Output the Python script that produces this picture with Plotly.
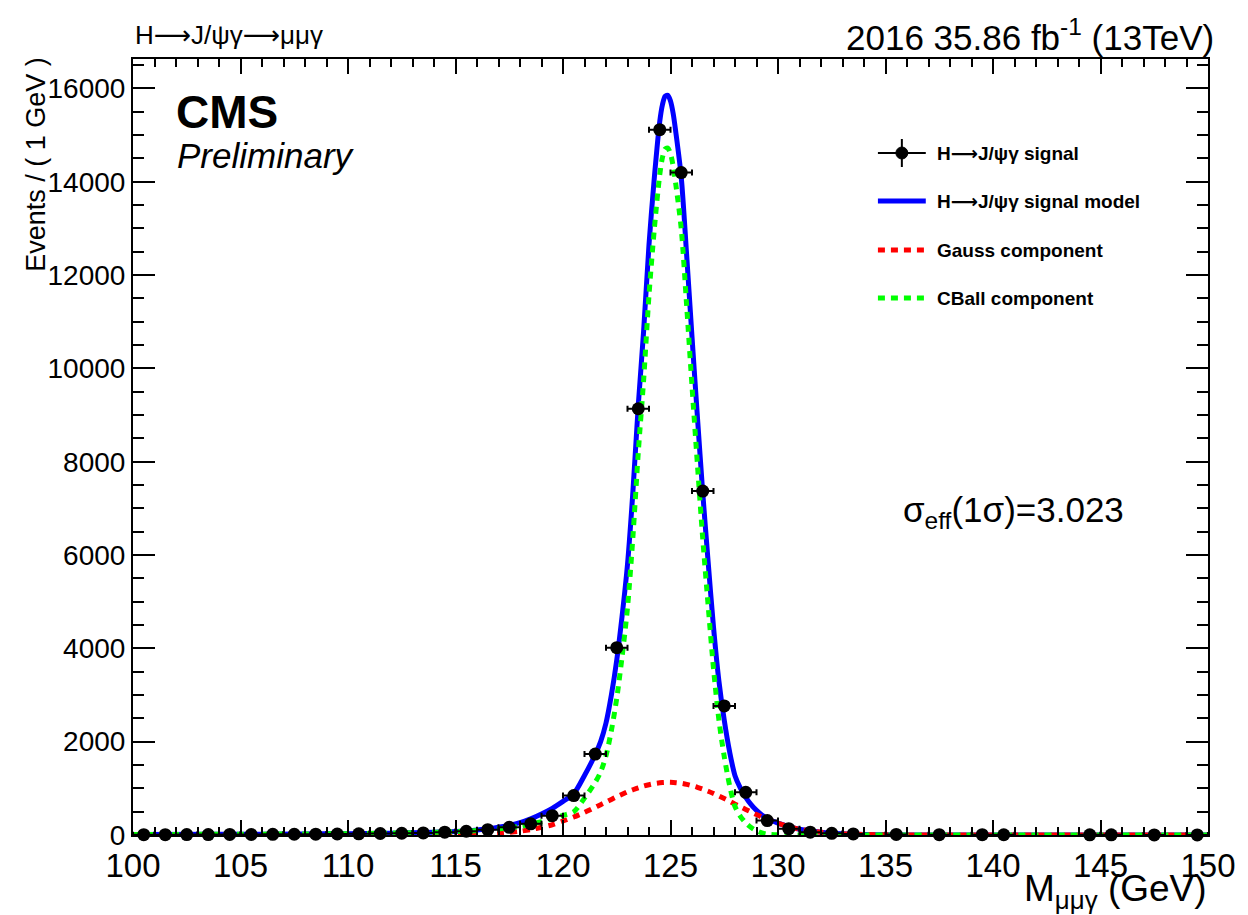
import plotly.graph_objects as go

# ---------------- data ----------------
bin_centers = [100.5, 101.5, 102.5, 103.5, 104.5, 105.5, 106.5, 107.5, 108.5, 109.5,
               110.5, 111.5, 112.5, 113.5, 114.5, 115.5, 116.5, 117.5, 118.5, 119.5,
               120.5, 121.5, 122.5, 123.5, 124.5, 125.5, 126.5, 127.5, 128.5, 129.5,
               130.5, 131.5, 132.5, 133.5, 135.5, 137.5, 139.5, 140.5, 144.5, 145.5,
               147.5, 149.5]
counts = [8, 7, 10, 9, 12, 11, 14, 16, 18, 21,
          25, 32, 38, 45, 60, 80, 115, 165, 240, 415,
          845, 1735, 4015, 9135, 15115, 14195, 7370, 2767, 915, 310,
          135, 60, 35, 22, 12, 8, 6, 5, 3, 3,
          2, 2]
bin_halfwidth = [0.5] * len(bin_centers)

curve_x = [100, 104, 108, 110, 112, 113, 114, 115, 116, 117,
           118, 118.5, 119, 119.5, 120, 120.5, 121, 121.5, 121.75, 122,
           122.25, 122.5, 122.75, 123, 123.25, 123.5, 123.75, 124, 124.25, 124.5,
           124.625, 124.75, 124.875, 125, 125.125, 125.25, 125.5, 125.75, 126, 126.25,
           126.5, 126.75, 127, 127.25, 127.5, 127.75, 128, 128.25, 128.5, 128.75,
           129, 129.25, 129.5, 130, 130.5, 131, 132, 133, 134, 135,
           137, 140, 145, 150]
model_y = [12, 15, 22, 28, 40, 49, 60, 77, 109, 165,
           265, 346, 450, 570, 720, 885, 1275, 1725, 2000, 2400,
           3000, 3750, 4700, 5800, 7350, 9200, 10800, 12650, 14100, 15290,
           15650, 15830, 15850, 15730, 15460, 15050, 14098, 12436, 10677, 8972,
           7332, 5857, 4458, 3305, 2460, 1782, 1272, 1005, 808, 652,
           528, 430, 356, 253, 180, 125, 60, 25, 10, 4,
           0, 0, 0, 0]
gauss_y = [0, 0, 0, 0, 0, 1, 2, 5, 14, 35,
           80, 116, 165, 220, 300, 385, 485, 595, 650, 705,
           762, 820, 873, 925, 970, 1012, 1048, 1078, 1102, 1118,
           1124, 1127, 1129, 1128, 1126, 1122, 1108, 1086, 1057, 1022,
           982, 937, 888, 835, 780, 722, 662, 605, 548, 492,
           438, 385, 338, 250, 180, 125, 60, 25, 10, 4,
           0, 0, 0, 0]
cball_y = [12, 15, 22, 28, 40, 48, 58, 72, 95, 130,
           185, 230, 285, 350, 420, 500, 790, 1130, 1350, 1700,
           2240, 2930, 3830, 4870, 6380, 8190, 9750, 11570, 13000, 14150,
           14520, 14700, 14720, 14600, 14330, 13930, 12990, 11350, 9620, 7950,
           6350, 4920, 3570, 2470, 1680, 1060, 610, 400, 260, 160,
           90, 45, 18, 3, 0, 0, 0, 0, 0, 0,
           0, 0, 0, 0]

legend_labels = ["H{a}J/\u03c8\u03b3 signal", "H{a}J/\u03c8\u03b3 signal model",
                 "Gauss component", "CBall component"]

# ---------------- geometry ----------------
W, H = 1248, 915
L, R, T, B = 133, 37, 59, 80
FONT = "Liberation Sans"
ARROW = "<span style='font-family:DejaVu Sans'>\u27f6</span>"


def fx(px):
    return (px - L) / (W - L - R)


def fy(py):
    return (H - B - py) / (H - T - B)


DASH = "7px,6px"

fig = go.Figure()
fig.add_trace(go.Scatter(x=curve_x, y=model_y, mode="lines",
                         line=dict(color="#0000ff", width=5, shape="spline", smoothing=0.8),
                         hoverinfo="skip", showlegend=False))
fig.add_trace(go.Scatter(x=curve_x, y=gauss_y, mode="lines",
                         line=dict(color="#ff0000", width=5, dash=DASH, shape="spline", smoothing=0.8),
                         hoverinfo="skip", showlegend=False))
fig.add_trace(go.Scatter(x=curve_x, y=cball_y, mode="lines",
                         line=dict(color="#00ff00", width=5, dash=DASH, shape="spline", smoothing=0.8),
                         hoverinfo="skip", showlegend=False))
fig.add_trace(go.Scatter(x=bin_centers, y=counts, mode="markers",
                         marker=dict(color="black", size=13),
                         error_x=dict(type="data", array=bin_halfwidth, color="black",
                                      thickness=2, width=3),
                         cliponaxis=False, showlegend=False))

axis_common = dict(showline=True, linewidth=2, linecolor="black", mirror="ticks",
                   showgrid=False, zeroline=False, ticks="inside", tickwidth=2,
                   tickcolor="black")

fig.update_layout(
    width=W, height=H,
    margin=dict(l=L, r=R, t=T, b=B, pad=0),
    paper_bgcolor="white", plot_bgcolor="white",
    font=dict(family=FONT, color="black"),
    xaxis=dict(range=[100, 150], tickmode="linear", tick0=100, dtick=5, ticklen=15,
               minor=dict(ticks="inside", dtick=1, ticklen=8, tickwidth=2, tickcolor="black"),
               tickfont=dict(size=33, family=FONT, color="black"), **axis_common),
    yaxis=dict(range=[0, 16630], tickmode="linear", tick0=0, dtick=2000, ticklen=22,
               tickformat="d",
               minor=dict(ticks="inside", dtick=500, ticklen=11, tickwidth=2, tickcolor="black"),
               tickfont=dict(size=28, family=FONT, color="black"), **axis_common),
)

ann = []


def add_text(text, px, py, size, xanchor="left", yanchor="middle", angle=0):
    ann.append(dict(text=text, x=fx(px), y=fy(py), xref="paper", yref="paper",
                    xanchor=xanchor, yanchor=yanchor, showarrow=False, textangle=angle,
                    font=dict(size=size, family=FONT, color="black")))


add_text("Events / ( 1 GeV )", 35, 55, 27, xanchor="center", yanchor="top", angle=-90)
add_text("M<sub>\u03bc\u03bc\u03b3</sub> (GeV)", 1212, 891, 37, xanchor="right")
add_text("H" + ARROW + "J/\u03c8\u03b3" + ARROW + "\u03bc\u03bc\u03b3", 133, 35, 26)
add_text("2016 35.86 fb<sup>-1</sup> (13TeV)", 1219, 35, 35, xanchor="right")
add_text("<b>CMS</b>", 174, 112, 46)
add_text("<i>Preliminary</i>", 175, 155, 35)
add_text("\u03c3<sub>eff</sub>(1\u03c3)=3.023", 903, 512, 35)

rows_y = [153, 201, 250, 298]
for lab, ry in zip(legend_labels, rows_y):
    add_text("<b>" + lab.format(a=ARROW) + "</b>", 937, ry, 19)

shapes = []
# data entry: cross + marker
shapes.append(dict(type="line", xref="paper", yref="paper", x0=fx(880), x1=fx(928),
                   y0=fy(rows_y[0]), y1=fy(rows_y[0]), line=dict(color="black", width=2)))
shapes.append(dict(type="line", xref="paper", yref="paper", x0=fx(904), x1=fx(904),
                   y0=fy(rows_y[0] - 14), y1=fy(rows_y[0] + 14), line=dict(color="black", width=2)))
shapes.append(dict(type="circle", xref="paper", yref="paper", x0=fx(898), x1=fx(910),
                   y0=fy(rows_y[0] + 6), y1=fy(rows_y[0] - 6), fillcolor="black",
                   line=dict(color="black", width=1)))
for ry, col, dash in [(rows_y[1], "#0000ff", "solid"), (rows_y[2], "#ff0000", DASH),
                      (rows_y[3], "#00ff00", DASH)]:
    shapes.append(dict(type="line", xref="paper", yref="paper", x0=fx(880), x1=fx(928),
                       y0=fy(ry), y1=fy(ry), line=dict(color=col, width=5, dash=dash)))

fig.update_layout(annotations=ann, shapes=shapes)
fig.write_html("out.html")
